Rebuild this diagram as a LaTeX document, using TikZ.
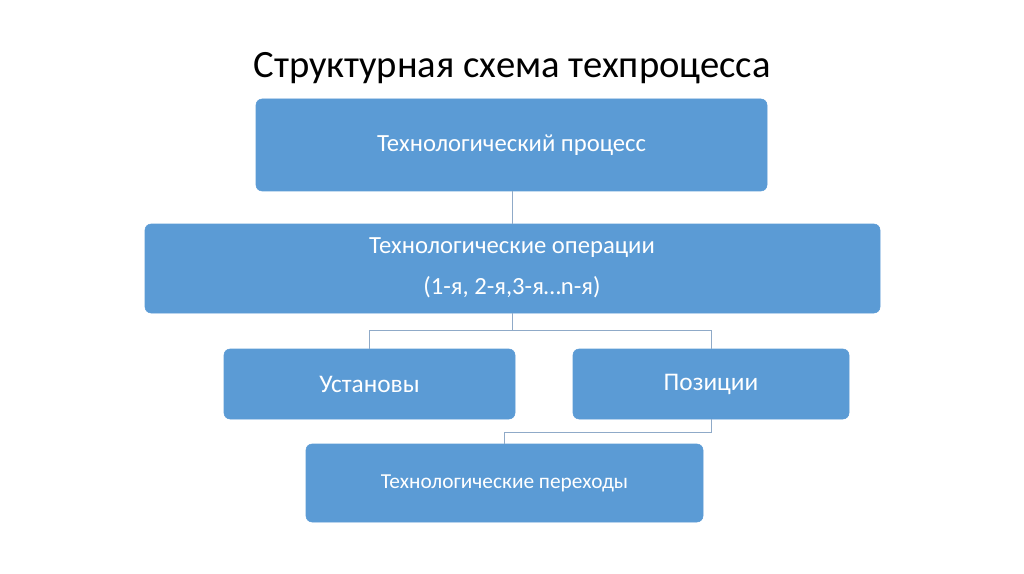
\documentclass[tikz,border=0pt]{standalone}
\usepackage{fontspec}
\setmainfont{Carlito}
\definecolor{boxblue}{HTML}{5B9BD5}
\definecolor{linec}{HTML}{8FAAC8}
\begin{document}
\begin{tikzpicture}[x=0.75pt,y=-0.75pt,
  bx/.style={fill=boxblue,draw=boxblue,rounded corners=4.5pt,text=white},
  ln/.style={draw=linec,line width=0.6pt}]
\useasboundingbox (0,0) rectangle (1024,574);
\node[font=\fontsize{29}{34}\selectfont] (title) at (512,68) {Структурная схема техпроцесса};
\path[bx] (256,99) rectangle (767,191);
\node[text=white,font=\fontsize{18.5}{22}\selectfont] (tp) at (511.5,145) {Технологический процесс};
\coordinate (tpb) at (512,191);
\path[bx] (145,224) rectangle (880,313);
\node[text=white,font=\fontsize{18.5}{22}\selectfont,align=center] (to) at (512,268) {Технологические операции\\[9pt](1-я, 2-я,3-я…n-я)};
\coordinate (tot) at (512,224);
\coordinate (tob) at (512,313);
\path[bx] (224,349) rectangle (515,419);
\node[text=white,font=\fontsize{19}{22}\selectfont] (us) at (369.5,384) {Установы};
\coordinate (ust) at (369.5,349);
\path[bx] (573,349) rectangle (849,419);
\node[text=white,font=\fontsize{19}{22}\selectfont] (po) at (711,384) {Позиции};
\coordinate (pot) at (711,349);
\coordinate (pob) at (711,419);
\path[bx] (306,444) rectangle (703,522);
\node[text=white,font=\fontsize{16}{20}\selectfont] (pe) at (504.5,483) {Технологические переходы};
\coordinate (pet) at (504,444);
\draw[ln] (tpb) -- (tot);
\draw[ln] (tob) -- (512,330) -| (ust);
\draw[ln] (512,330) -| (pot);
\draw[ln] (pob) -- (711,432) -| (pet);
\end{tikzpicture}
\end{document}
